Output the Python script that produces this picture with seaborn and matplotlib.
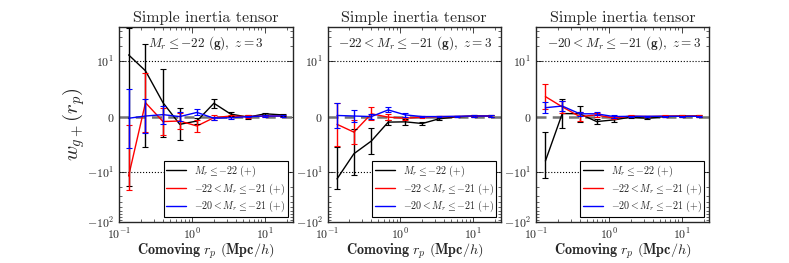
import matplotlib
matplotlib.use("Agg")
import matplotlib.pyplot as plt
import matplotlib.ticker as mticker
import seaborn as sns
import pandas as pd
import numpy as np

# projected separations (Mpc/h)
rp = [0.135, 0.23, 0.40, 0.68, 1.17, 2.0, 3.4, 5.9, 10.1, 17.5]

samples = [r'$M_r \leq {-22}\ \mathbf{(+)}$',
           r'${-22} < M_r \leq {-21}\ \mathbf{(+)}$',
           r'${-20} < M_r \leq {-21}\ \mathbf{(+)}$']
colors = ['k', 'r', 'b']

panel_text = [r'$M_r \leq {-22}\ \mathbf{(g)},\ z=3$',
              r'${-22} < M_r \leq {-21}\ \mathbf{(g)},\ z=3$',
              r'${-20} < M_r \leq {-21}\ \mathbf{(g)},\ z=3$']

# panel 1 : Mr <= -22 (g)
p1_black = [13.3, 8.25, 2.5, -1.4, -0.8, 2.4, 0.45, -0.1, 0.5, 0.3]
p1_black_err = [32.0, 13.8, 6.1, 2.9, 0.5, 0.8, 0.3, 0.3, 0.2, 0.15]
p1_red = [-12.0, 2.5, -0.9, -0.8, -1.7, -0.2, 0.1, 0.0, 0.1, 0.1]
p1_red_err = [10.5, 5.3, 2.5, 1.4, 1.0, 0.4, 0.2, 0.2, 0.1, 0.1]
p1_blue = [-0.3, 0.1, 0.35, 0.0, 0.75, -0.3, -0.2, 0.0, 0.1, 0.1]
p1_blue_err = [5.3, 3.0, 1.6, 0.8, 0.55, 0.3, 0.2, 0.15, 0.1, 0.1]

# panel 2 : -22 < Mr <= -21 (g)
p2_black = [-13.7, -6.7, -4.4, -1.0, -0.95, -1.25, -0.4, -0.05, 0.1, 0.1]
p2_black_err = [8.3, 4.5, 2.3, 0.45, 0.5, 0.35, 0.2, 0.1, 0.1, 0.1]
p2_red = [-1.4, -2.8, 0.5, -0.1, -0.3, -0.1, 0.0, 0.0, 0.1, 0.1]
p2_red_err = [3.9, 2.2, 1.15, 0.6, 0.3, 0.2, 0.1, 0.1, 0.1, 0.1]
p2_blue = [0.2, 0.1, 0.0, 1.2, 0.3, 0.0, 0.0, 0.05, 0.1, 0.1]
p2_blue_err = [2.3, 1.1, 0.5, 0.45, 0.3, 0.15, 0.1, 0.1, 0.1, 0.1]

# panel 3 : -20 < Mr <= -21 (g)
p3_black = [-8.0, 0.55, 0.5, -0.9, -0.6, -0.1, -0.3, 0.0, 0.1, 0.1]
p3_black_err = [5.3, 2.55, 1.45, 0.5, 0.3, 0.15, 0.15, 0.1, 0.1, 0.1]
p3_red = [3.6, 1.75, 0.0, 0.3, -0.3, 0.1, 0.0, 0.1, 0.1, 0.1]
p3_red_err = [2.2, 1.1, 0.75, 0.3, 0.2, 0.1, 0.1, 0.1, 0.1, 0.1]
p3_blue = [1.6, 1.9, 0.5, 0.5, 0.0, 0.05, 0.05, 0.05, 0.05, 0.05]
p3_blue_err = [1.0, 0.95, 0.4, 0.3, 0.2, 0.1, 0.1, 0.1, 0.1, 0.1]

panels = [
    [(p1_black, p1_black_err), (p1_red, p1_red_err), (p1_blue, p1_blue_err)],
    [(p2_black, p2_black_err), (p2_red, p2_red_err), (p2_blue, p2_blue_err)],
    [(p3_black, p3_black_err), (p3_red, p3_red_err), (p3_blue, p3_blue_err)],
]

sns.set_style("ticks")
plt.rcParams['font.family'] = 'cmr10'
plt.rcParams['mathtext.fontset'] = 'cm'
plt.rcParams['axes.unicode_minus'] = False
plt.rcParams['axes.formatter.use_mathtext'] = True
plt.rcParams['xtick.direction'] = 'in'
plt.rcParams['ytick.direction'] = 'in'

fig, axes = plt.subplots(1, 3, figsize=(7.89, 2.63), dpi=100)
fig.subplots_adjust(left=0.151, right=0.899, bottom=0.156, top=0.897, wspace=0.202)

for i, ax in enumerate(axes):
    # long-form table for seaborn
    rows = []
    for s, (vals, errs) in zip(samples, panels[i]):
        for x, v in zip(rp, vals):
            rows.append({'rp': x, 'w': v, 'sample': s})
    df = pd.DataFrame(rows)

    ax.set_xscale('log')
    ax.set_yscale('symlog', linthresh=10, linscale=1)

    ax.axhline(0, color='0.45', lw=1.8, ls='--', dashes=(4, 2.5), zorder=1)
    ax.axhline(10, color='k', lw=0.8, ls=':', zorder=1)
    ax.axhline(-10, color='k', lw=0.8, ls=':', zorder=1)

    sns.lineplot(data=df, x='rp', y='w', hue='sample', hue_order=samples,
                 palette=colors, ax=ax, lw=1.0, legend=False, zorder=3)
    for c, (vals, errs) in zip(colors, panels[i]):
        ax.errorbar(rp, vals, yerr=errs, fmt='none', ecolor=c, elinewidth=1.0,
                    capsize=2, capthick=0.8, zorder=3)

    ax.set_xlim(0.1, 24)
    ax.set_ylim(-100, 48)
    ax.set_yticks([-100, -10, 0, 10])
    ax.yaxis.set_minor_locator(mticker.SymmetricalLogLocator(linthresh=10, base=10,
                                                             subs=np.arange(2, 10)))
    ax.yaxis.set_minor_formatter(mticker.NullFormatter())
    ax.tick_params(which='both', top=True, right=True, labelsize=8.5)
    ax.tick_params(axis='x', which='major', pad=3.5)
    ax.tick_params(which='major', length=4, width=0.6)
    ax.tick_params(which='minor', length=2, width=0.5)
    for sp in ax.spines.values():
        sp.set_linewidth(1.0)

    ax.set_title('Simple inertia tensor', fontsize=11.5, pad=4)
    ax.set_xlabel(r'$\mathbf{Comoving}\ r_p\ \mathbf{(Mpc/}h\mathbf{)}$', fontsize=10.2, labelpad=0)
    if i == 0:
        ax.set_ylabel(r'$w_{g+}(r_p)$', fontsize=15, labelpad=0)
        ax.text(0.5, 0.965, panel_text[i], transform=ax.transAxes, ha='center', va='top', fontsize=9.5)
    else:
        ax.set_ylabel('')
        ax.text(0.95, 0.965, panel_text[i], transform=ax.transAxes, ha='right', va='top', fontsize=9.5)

    handles = [plt.Line2D([], [], color=c, lw=1.0) for c in colors]
    leg = ax.legend(handles, samples, loc='lower right', fontsize=7.2, fancybox=False,
                    framealpha=1, edgecolor='k', handlelength=2.0, labelspacing=0.25,
                    borderpad=0.25, handletextpad=0.8)
    leg.get_frame().set_linewidth(0.8)

plt.savefig('out.png', dpi=100)
